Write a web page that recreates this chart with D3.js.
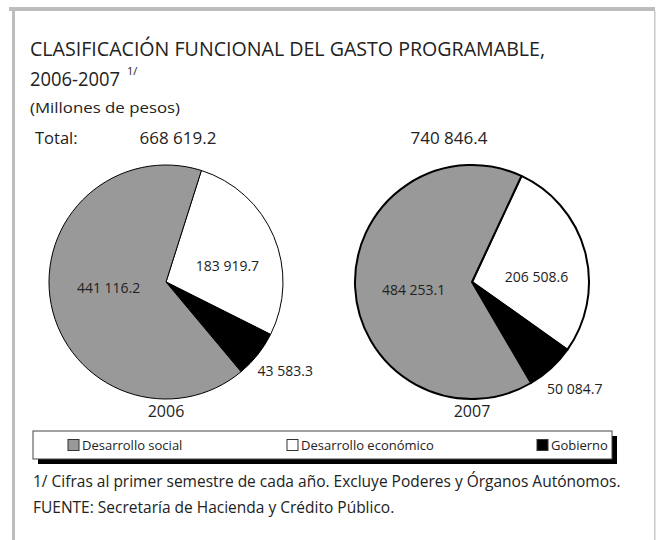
<!DOCTYPE html>
<html>
<head>
<meta charset="utf-8">
<script src="https://cdn.jsdelivr.net/npm/d3@7"></script>
<style>
  body { margin: 0; background: #fff; }
  text { font-family: "Open Sans", "Noto Sans", sans-serif; fill: #222; }
</style>
</head>
<body>
<div id="chart"></div>
<script>
// Data
const categories = ["Desarrollo económico", "Gobierno", "Desarrollo social"];
const years = ["2006", "2007"];
const totals = ["668 619.2", "740 846.4"];
const values2006 = [183919.7, 43583.3, 441116.2];
const values2007 = [206508.6, 50084.7, 484253.1];
const labels2006 = ["183 919.7", "43 583.3", "441 116.2"];
const labels2007 = ["206 508.6", "50 084.7", "484 253.1"];
const legendOrder = ["Desarrollo social", "Desarrollo económico", "Gobierno"];

const width = 657, height = 540;

const color = d3.scaleOrdinal()
    .domain(categories)
    .range(["#ffffff", "#000000", "#999999"]);

const svg = d3.select("#chart").append("svg")
    .attr("width", width)
    .attr("height", height);

// Frame
svg.append("rect").attr("x", 9).attr("y", 7).attr("width", 646).attr("height", 4).attr("fill", "#bdbdbd");
svg.append("rect").attr("x", 12).attr("y", 11).attr("width", 3).attr("height", height).attr("fill", "#bdbdbd");
svg.append("rect").attr("x", 654).attr("y", 11).attr("width", 1.5).attr("height", height).attr("fill", "#c8c8c8");

// Titles
svg.append("text").attr("x", 30).attr("y", 56)
    .style("font-size", "20px")
    .attr("textLength", 515).attr("lengthAdjust", "spacingAndGlyphs")
    .text("CLASIFICACIÓN FUNCIONAL DEL GASTO PROGRAMABLE,");
const t2 = svg.append("text").attr("x", 30).attr("y", 86).style("font-size", "20px");
t2.append("tspan").attr("textLength", 90).attr("lengthAdjust", "spacingAndGlyphs").text("2006-2007");
t2.append("tspan").attr("dx", 7).attr("dy", -11).style("font-size", "11px").text("1/");

svg.append("text").attr("x", 30).attr("y", 113)
    .style("font-size", "15px")
    .attr("textLength", 150).attr("lengthAdjust", "spacingAndGlyphs")
    .text("(Millones de pesos)");

svg.append("text").attr("x", 35).attr("y", 144).style("font-size", "16.5px").text("Total:");

// Pies
const radius = 117;
const centersX = d3.scaleOrdinal().domain(years).range([166, 472]);
const cy = 282;
const startAngles = [17.6, 25];
const strokes = [1, 2];
const allValues = [values2006, values2007];
const allLabels = [labels2006, labels2007];
const labelRadius = { "Desarrollo económico": 0.57, "Gobierno": 1.3, "Desarrollo social": 0.5 };
const labelShift = [
    { "Desarrollo económico": 10, "Gobierno": -5, "Desarrollo social": -5 },
    { "Desarrollo económico": 12, "Gobierno": -5, "Desarrollo social": 5 }
];
const totalX = [178, 449];

years.forEach((yr, i) => {
    const data = categories.map((c, j) => ({ cat: c, value: allValues[i][j], label: allLabels[i][j] }));
    const a0 = startAngles[i] * Math.PI / 180;
    const pie = d3.pie().sort(null).value(d => d.value)
        .startAngle(a0).endAngle(a0 + 2 * Math.PI);
    const arc = d3.arc().innerRadius(0).outerRadius(radius);
    const g = svg.append("g").attr("transform", `translate(${centersX(yr)}, ${cy})`);
    const arcs = pie(data);

    g.selectAll("path")
        .data(arcs)
        .enter()
        .append("path")
        .attr("d", arc)
        .attr("fill", d => color(d.data.cat))
        .attr("stroke", "#000")
        .attr("stroke-width", strokes[i])
        .attr("stroke-linejoin", "round");

    g.selectAll(".slice-label")
        .data(arcs)
        .enter()
        .append("text")
        .attr("class", "slice-label")
        .attr("text-anchor", "middle")
        .attr("dy", "0.35em")
        .style("font-size", "14px")
        .attr("transform", d => {
            const r = radius * labelRadius[d.data.cat];
            const c = d3.arc().innerRadius(r).outerRadius(r).centroid(d);
            return `translate(${c[0]}, ${c[1] + labelShift[i][d.data.cat]})`;
        })
        .text(d => d.data.label);

    g.append("text")
        .attr("y", 135)
        .attr("text-anchor", "middle")
        .style("font-size", "16px")
        .text(yr);

    svg.append("text").attr("x", totalX[i]).attr("y", 144)
        .attr("text-anchor", "middle")
        .style("font-size", "17px")
        .text(totals[i]);
});

// Legend
const lx = 33, ly = 431, lw = 579, lh = 28;
svg.append("rect").attr("x", lx + 5).attr("y", ly + 5).attr("width", lw).attr("height", lh).attr("fill", "#000");
svg.append("rect").attr("x", lx).attr("y", ly).attr("width", lw).attr("height", lh)
    .attr("fill", "#fff").attr("stroke", "#444").attr("stroke-width", 1);

const legendX = d3.scaleOrdinal().domain(legendOrder).range([68, 287, 537]);
const lg = svg.selectAll(".legend-item")
    .data(legendOrder)
    .enter()
    .append("g")
    .attr("class", "legend-item")
    .attr("transform", d => `translate(${legendX(d)}, ${ly + lh / 2})`);
lg.append("rect").attr("x", 0).attr("y", -5.5).attr("width", 11).attr("height", 11)
    .attr("fill", d => color(d)).attr("stroke", "#333").attr("stroke-width", 1);
lg.append("text").attr("x", 14).attr("dy", "0.35em")
    .style("font-size", "13px")
    .text(d => d);

// Footnotes
svg.append("text").attr("x", 33).attr("y", 487).style("font-size", "15.5px")
    .text("1/ Cifras al primer semestre de cada año. Excluye Poderes y Órganos Autónomos.");
svg.append("text").attr("x", 33).attr("y", 513).style("font-size", "15.5px")
    .text("FUENTE: Secretaría de Hacienda y Crédito Público.");
</script>
</body>
</html>
